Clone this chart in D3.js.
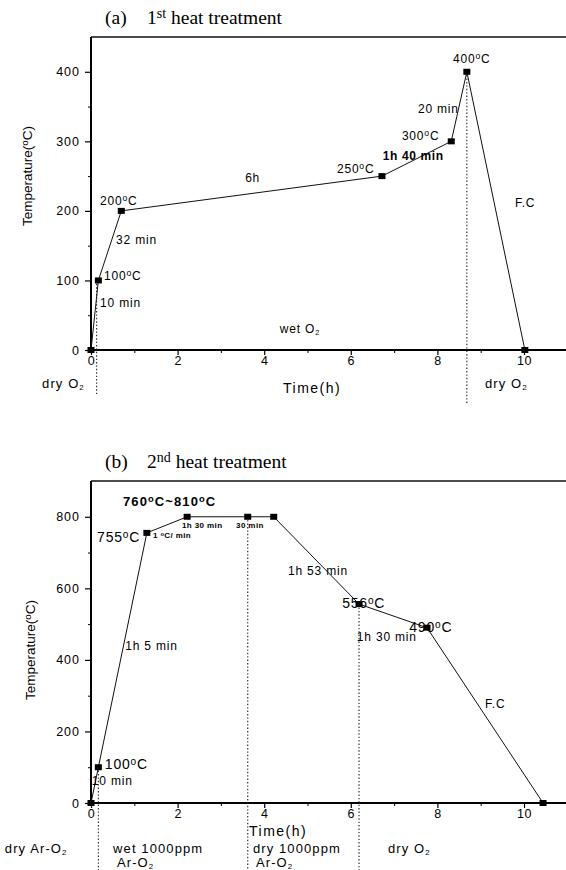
<!DOCTYPE html>
<html>
<head>
<meta charset="utf-8">
<script src="https://cdn.jsdelivr.net/npm/d3@7"></script>
<style>
  html, body { margin: 0; padding: 0; background: #fff; }
  svg { display: block; font-family: "Liberation Sans", Arial, sans-serif; }
</style>
</head>
<body>
<svg id="chart" width="566" height="870"></svg>
<script>
// (a) first heat treatment
const timeA = [0, 0.17, 0.7, 6.72, 8.32, 8.68, 10.02];
const tempA = [0, 100, 200, 250, 300, 400, 0];
// (b) second heat treatment
const timeB = [0, 0.17, 1.29, 2.22, 3.62, 4.22, 6.19, 7.76, 10.44];
const tempB = [0, 100, 755, 800, 800, 800, 556, 490, 0];

const xTicks = [0, 2, 4, 6, 8, 10];
const xMinor = [1, 3, 5, 7, 9, 11];
const yTicksA = [0, 100, 200, 300, 400];
const yMinorA = [50, 150, 250, 350];
const yTicksB = [0, 200, 400, 600, 800];
const yMinorB = [100, 300, 500, 700];

// gas atmosphere switch times (dotted markers): [time, from temp, to temp]
const switchA = [[0.13, 100, -65], [8.68, 400, -78]];
const switchB = [[0.17, 100, -187], [3.62, 800, -187], [6.19, 556, -187]];

// annotations: [text, time, temp, class]
const notesA = [
  ['100^{o}C', 0.30, 101, 'n'],
  ['10 min', 0.21, 62, 'n'],
  ['32 min', 0.58, 152, 'n'],
  ['200^{o}C', 0.21, 209, 'n'],
  ['6h', 3.56, 242, 'n'],
  ['250^{o}C', 5.68, 255, 'n'],
  ['1h 40 min', 6.74, 273, 'b'],
  ['300^{o}C', 7.18, 302, 'n'],
  ['20 min', 7.55, 341, 'n'],
  ['400^{o}C', 8.36, 413, 'n'],
  ['F.C', 9.79, 206, 'n'],
  ['wet O_{2}', 4.36, 24, 'n'],
  ['dry O_{2}', -1.13, -55, 'g'],
  ['dry O_{2}', 9.1, -55, 'g']
];
const notesB = [
  ['760^{o}C~810^{o}C', 0.74, 831, 'b2'],
  ['755^{o}C', 0.14, 730, 'l'],
  ['1 ^{o}C/ min', 1.43, 741, 't'],
  ['1h 30 min', 2.10, 769, 't'],
  ['30 min', 3.35, 769, 't'],
  ['1h 5 min', 0.79, 428, 'n'],
  ['100^{o}C', 0.32, 95, 'l'],
  ['10 min', 0.02, 50, 'n'],
  ['1h 53 min', 4.55, 638, 'n'],
  ['556^{o}C', 5.80, 545, 'l'],
  ['1h 30 min', 6.14, 452, 'n'],
  ['490^{o}C', 7.35, 478, 'l'],
  ['F.C', 9.10, 266, 'n'],
  ['dry Ar-O_{2}', -1.99, -140, 'g'],
  ['wet 1000ppm', 0.51, -140, 'g'],
  ['Ar-O_{2}', 0.60, -178, 'g'],
  ['dry 1000ppm', 3.74, -140, 'g'],
  ['Ar-O_{2}', 3.81, -178, 'g'],
  ['dry O_{2}', 6.86, -140, 'g']
];

const noteStyle = {
  n: { size: 12, weight: 'normal', ls: 0.8 },
  b: { size: 12, weight: 'bold', ls: 0.6 },
  b2: { size: 13, weight: 'bold', ls: 1.1 },
  l: { size: 14, weight: 'normal', ls: 0.8 },
  t: { size: 8, weight: 'bold', ls: 0.4 },
  g: { size: 13, weight: 'normal', ls: 1.1 }
};

const svg = d3.select('#chart');

// text with ^{sup} and _{sub} pieces
function rich(sel, str) {
  str.split(/(\^\{[^}]*\}|_\{[^}]*\})/).forEach((p) => {
    if (!p) return;
    if (p[0] === '^') {
      sel.append('tspan').attr('baseline-shift', '40%').attr('font-size', '0.72em').text(p.slice(2, -1));
    } else if (p[0] === '_') {
      sel.append('tspan').attr('baseline-shift', '-30%').attr('font-size', '0.6em').text(p.slice(2, -1));
    } else {
      sel.append('tspan').text(p);
    }
  });
  return sel;
}

const x = d3.scaleLinear().domain([0, 11]).range([91, 567.3]);

function panel(cfg) {
  const y = d3.scaleLinear().domain([0, cfg.yMax]).range([cfg.bottom, cfg.top]);
  const g = svg.append('g');

  // title
  g.append('text')
    .attr('x', 105).attr('y', cfg.top - 13)
    .attr('font-family', '"Liberation Serif", "Times New Roman", serif')
    .attr('font-size', 19.5)
    .text(cfg.tag);
  rich(g.append('text')
    .attr('x', 147).attr('y', cfg.top - 13)
    .attr('font-family', '"Liberation Serif", "Times New Roman", serif')
    .attr('font-size', 19.5), cfg.title);

  // top border
  g.append('line')
    .attr('x1', x(0)).attr('x2', 566)
    .attr('y1', y(cfg.yMax)).attr('y2', y(cfg.yMax))
    .attr('stroke', '#111').attr('stroke-width', 1.6);

  // y axis
  const ya = g.append('g').attr('transform', `translate(${x(0)},0)`)
    .call(d3.axisLeft(y).tickValues(cfg.yTicks).tickSize(6).tickPadding(5).tickSizeOuter(0));
  ya.select('.domain').attr('stroke-width', 2).attr('d', `M0,${y(cfg.yMax)}V${cfg.bottom + 2}`);
  ya.selectAll('.tick line').attr('stroke-width', 1.2);
  ya.selectAll('text').attr('font-size', 12.5).attr('letter-spacing', 1).attr('font-family', '"Liberation Sans", Arial, sans-serif');
  g.append('g').attr('transform', `translate(${x(0)},0)`)
    .call(d3.axisLeft(y).tickValues(cfg.yMinor).tickSize(3).tickFormat(''))
    .call((s) => s.select('.domain').remove());

  // x axis
  const xa = g.append('g').attr('transform', `translate(0,${cfg.bottom})`)
    .call(d3.axisBottom(x).tickValues(xTicks).tickSize(5).tickPadding(1).tickSizeOuter(0));
  xa.select('.domain').attr('stroke-width', 2).attr('d', `M${x(0) - 1},0H566`);
  xa.selectAll('.tick line').attr('stroke-width', 1.2);
  xa.selectAll('text').attr('font-size', 12.5).attr('letter-spacing', 0.5).attr('font-family', '"Liberation Sans", Arial, sans-serif');
  g.append('g').attr('transform', `translate(0,${cfg.bottom})`)
    .call(d3.axisBottom(x).tickValues(xMinor).tickSize(3).tickFormat(''))
    .call((s) => s.select('.domain').remove());

  // axis labels
  rich(g.append('text')
    .attr('transform', `translate(${cfg.yLabelX},${cfg.yLabelY}) rotate(-90)`)
    .attr('text-anchor', 'middle')
    .attr('font-size', 13.5), 'Temperature(^{o}C)');
  g.append('text')
    .attr('x', cfg.xLabelX).attr('y', cfg.xLabelY)
    .attr('font-size', 14).attr('letter-spacing', 1.5)
    .text('Time(h)');

  // dotted switch lines
  g.selectAll('.sw').data(cfg.switches).join('line')
    .attr('x1', (d) => x(d[0])).attr('x2', (d) => x(d[0]))
    .attr('y1', (d) => y(d[1])).attr('y2', (d) => y(d[2]))
    .attr('stroke', '#222').attr('stroke-width', 1.1)
    .attr('stroke-dasharray', '1.4,2');

  // profile line
  const pts = cfg.times.map((t, i) => [t, cfg.temps[i]]);
  g.append('path')
    .attr('d', d3.line().x((d) => x(d[0])).y((d) => y(d[1]))(pts))
    .attr('fill', 'none').attr('stroke', '#111').attr('stroke-width', 1);

  g.selectAll('.pt').data(pts).join('rect')
    .attr('x', (d) => x(d[0]) - 3.5).attr('y', (d) => y(d[1]) - 3)
    .attr('width', 7).attr('height', 6)
    .attr('fill', '#000');

  // annotations
  cfg.notes.forEach(([txt, t, v, k]) => {
    const st = noteStyle[k];
    rich(g.append('text')
      .attr('x', x(t)).attr('y', y(v))
      .attr('font-size', st.size).attr('font-weight', st.weight)
      .attr('letter-spacing', st.ls), txt);
  });
}

panel({
  tag: '(a)', title: '1^{st} heat treatment',
  times: timeA, temps: tempA, yMax: 450, top: 37, bottom: 350,
  yTicks: yTicksA, yMinor: yMinorA, switches: switchA, notes: notesA,
  yLabelX: 32, yLabelY: 176, xLabelX: 283, xLabelY: 393
});

panel({
  tag: '(b)', title: '2^{nd} heat treatment',
  times: timeB, temps: tempB, yMax: 900, top: 481, bottom: 803,
  yTicks: yTicksB, yMinor: yMinorB, switches: switchB, notes: notesB,
  yLabelX: 35, yLabelY: 650, xLabelX: 249, xLabelY: 836
});
</script>
</body>
</html>
